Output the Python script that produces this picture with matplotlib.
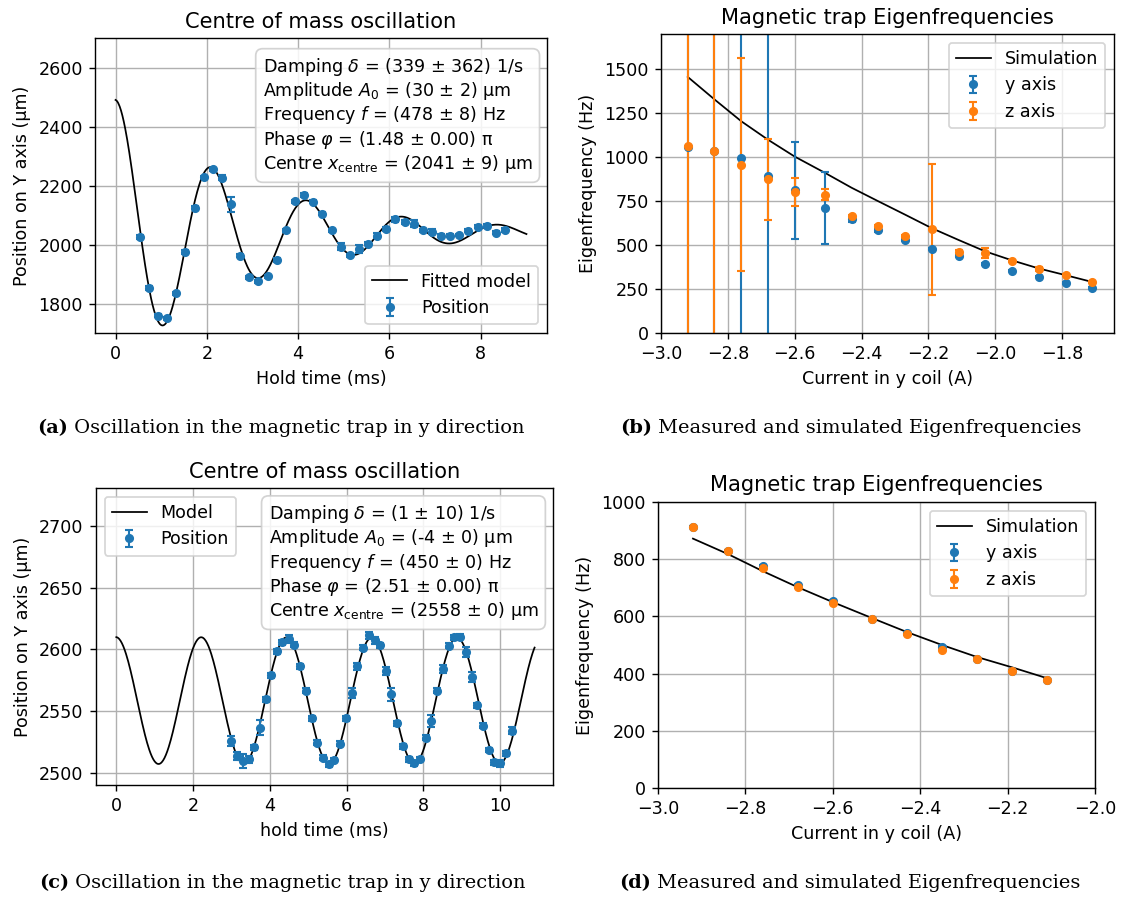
import numpy as np
import matplotlib
matplotlib.use("Agg")
import matplotlib.pyplot as plt

# (a) centre of mass oscillation, first run
t_a = [0.53, 0.73, 0.93, 1.13, 1.33, 1.53, 1.73, 1.93, 2.13, 2.33, 2.53, 2.73, 2.93, 3.13,
       3.33, 3.53, 3.73, 3.93, 4.13, 4.33, 4.53, 4.73, 4.93, 5.13, 5.33, 5.53, 5.73, 5.93,
       6.13, 6.33, 6.53, 6.73, 6.93, 7.13, 7.33, 7.53, 7.73, 7.93, 8.13, 8.33, 8.53]
pos_a = [2025, 1852, 1758, 1750, 1834, 1975, 2125, 2228, 2255, 2227, 2136, 1962, 1889, 1875,
         1893, 1948, 2048, 2146, 2169, 2145, 2104, 2048, 1993, 1964, 1985, 2003, 2030, 2053,
         2085, 2077, 2071, 2048, 2044, 2029, 2030, 2033, 2046, 2060, 2063, 2040, 2048]
err_a = [8, 6, 5, 5, 6, 6, 5, 4, 6, 10, 26, 5, 5, 6, 5, 7, 6, 5, 7, 5, 5, 5, 12, 5, 14, 5, 9,
         6, 8, 6, 12, 5, 8, 5, 5, 4, 5, 5, 5, 5, 7]
# fit parameters: damping (1/s), amplitude of curve (um), frequency (Hz), phase (pi), centre (um)
fit_a = dict(delta=339, amp=450, f=478, phi=1.48, centre=2041, t_end=9.0)
text_a = [r"Damping $\delta$ = (339 ± 362) 1/s",
          r"Amplitude $A_0$ = (30 ± 2) µm",
          r"Frequency $f$ = (478 ± 8) Hz",
          r"Phase $\varphi$ = (1.48 ± 0.00) π",
          r"Centre $x_\mathrm{centre}$ = (2041 ± 9) µm"]

# (c) centre of mass oscillation, second run
t_c = [2.99, 3.14, 3.30, 3.46, 3.60, 3.75, 3.89, 4.04, 4.19, 4.33, 4.49, 4.64, 4.79, 4.94,
       5.09, 5.24, 5.39, 5.53, 5.68, 5.83, 5.98, 6.13, 6.28, 6.43, 6.58, 6.73, 6.87, 7.02,
       7.17, 7.32, 7.47, 7.62, 7.77, 7.92, 8.06, 8.21, 8.36, 8.51, 8.66, 8.81, 8.96, 9.11,
       9.26, 9.41, 9.55, 9.70, 9.85, 10.00, 10.15, 10.30]
pos_c = [2525.7, 2513.5, 2509.5, 2510.8, 2520.5, 2536.5, 2559.5, 2579, 2598.4, 2605.7,
         2608.4, 2604, 2586.5, 2566.5, 2544, 2524.3, 2512.2, 2506.8, 2510.3, 2523.5,
         2544.3, 2564.9, 2586.2, 2601.4, 2611.4, 2607.3, 2603.5, 2582.4, 2563.5, 2540,
         2521.6, 2510.8, 2507.6, 2511.1, 2528.4, 2541.9, 2566.5, 2584, 2603, 2610,
         2610.3, 2597.8, 2577.3, 2554.6, 2538.1, 2518.4, 2508.6, 2507.6, 2515.7, 2534]
err_c = [4, 3, 6, 3, 2, 6, 2, 2, 2, 2, 3, 2, 2, 2, 2, 2, 2, 2, 2, 2, 2, 4, 3, 2, 3, 3, 2, 3,
         5, 2, 2, 2, 2, 2, 2, 5, 2, 3, 2, 2, 2, 4, 4, 2, 2, 2, 2, 3, 2, 3]
fit_c = dict(delta=1, amp=-51.5, f=450, phi=2.51, centre=2558.5, t_end=10.9)
text_c = [r"Damping $\delta$ = (1 ± 10) 1/s",
          r"Amplitude $A_0$ = (-4 ± 0) µm",
          r"Frequency $f$ = (450 ± 0) Hz",
          r"Phase $\varphi$ = (2.51 ± 0.00) π",
          r"Centre $x_\mathrm{centre}$ = (2558 ± 0) µm"]

# (b) eigenfrequencies vs coil current, first run
cur_b = [-2.92, -2.84, -2.76, -2.68, -2.60, -2.51, -2.43, -2.35, -2.27, -2.19, -2.11,
         -2.03, -1.95, -1.87, -1.79, -1.71]
fy_b = [1057, 1033, 997, 892, 812, 713, 646, 583, 529, 478, 436, 392, 355, 321, 283, 254]
ey_b = [1500, 1500, 2000, 2000, 275, 205, 15, 6, 6, 6, 5, 5, 5, 5, 5, 5]
fz_b = [1064, 1036, 957, 873, 801, 787, 663, 608, 550, 590, 462, 455, 409, 365, 329, 290]
ez_b = [2000, 2000, 605, 228, 80, 33, 10, 8, 8, 372, 8, 28, 8, 10, 6, 5]
sim_b = [1456, 1328, 1204, 1099, 1003, 911, 826, 749, 673, 596, 529, 464, 413, 367, 329, 290]

# (d) eigenfrequencies vs coil current, second run
cur_d = [-2.92, -2.84, -2.76, -2.68, -2.60, -2.51, -2.43, -2.35, -2.27, -2.19, -2.11]
fy_d = [914, 828, 777, 711, 653, 592, 543, 493, 451, 410, 378]
ey_d = [3, 3, 3, 3, 3, 3, 3, 3, 3, 3, 3]
fz_d = [911, 828, 768, 702, 647, 592, 538, 484, 451, 410, 378]
ez_d = [3, 3, 3, 3, 3, 3, 3, 3, 3, 3, 3]
sim_d = [872, 818, 758, 702, 650, 594, 545, 500, 458, 422, 384]

captions = [("(a)", "Oscillation in the magnetic trap in y direction"),
            ("(b)", "Measured and simulated Eigenfrequencies"),
            ("(c)", "Oscillation in the magnetic trap in y direction"),
            ("(d)", "Measured and simulated Eigenfrequencies")]


def model(p):
    # damped oscillation from the fit parameters, time in ms
    t = np.linspace(0, p["t_end"], 600)
    return t, p["centre"] - p["amp"] * np.exp(-p["delta"] * t / 1000) * \
        np.sin(2 * np.pi * p["f"] * t / 1000 + p["phi"] * np.pi)


DPI = 126
fig = plt.figure(figsize=(1125 / DPI, 898 / DPI), dpi=DPI)

ax_a = fig.add_axes([95 / 1125, 1 - 333 / 898, 452 / 1125, 295 / 898])
ax_b = fig.add_axes([661 / 1125, 1 - 333 / 898, 453 / 1125, 299 / 898])
ax_c = fig.add_axes([96 / 1125, 1 - 785 / 898, 457 / 1125, 297 / 898])
ax_d = fig.add_axes([658 / 1125, 1 - 788 / 898, 437 / 1125, 286 / 898])

box = dict(boxstyle="round,pad=0.4", facecolor="white", edgecolor="0.8", alpha=0.85)
eb = dict(fmt="o", ms=4.2, capsize=2.5, elinewidth=1.2, capthick=1.2)

# (a)
tm, ym = model(fit_a)
ax_a.plot(tm, ym, color="black", lw=1.0, label="Fitted model")
ax_a.errorbar(t_a, pos_a, yerr=err_a, color="C0", label="Position", **eb)
ax_a.set_xlim(-0.45, 9.45)
ax_a.set_ylim(1700, 2700)
ax_a.set_title("Centre of mass oscillation")
ax_a.set_xlabel("Hold time (ms)")
ax_a.set_ylabel("Position on Y axis (µm)")
ax_a.grid(True)
ax_a.legend(loc="lower right")
ax_a.text(0.968, 0.94, "\n".join(text_a), transform=ax_a.transAxes, ha="right", va="top",
          multialignment="left", linespacing=1.15, bbox=box)

# (c)
tm, ym = model(fit_c)
ax_c.plot(tm, ym, color="black", lw=1.0, label="Model")
ax_c.errorbar(t_c, pos_c, yerr=err_c, color="C0", label="Position", **eb)
ax_c.set_xlim(-0.53, 11.38)
ax_c.set_ylim(2490, 2731)
ax_c.set_title("Centre of mass oscillation")
ax_c.set_xlabel("hold time (ms)")
ax_c.set_ylabel("Position on Y axis (µm)")
ax_c.grid(True)
ax_c.legend(loc="upper left")
ax_c.text(0.968, 0.95, "\n".join(text_c), transform=ax_c.transAxes, ha="right", va="top",
          multialignment="left", linespacing=1.15, bbox=box)

# (b)
ax_b.plot(cur_b, sim_b, color="black", lw=1.0, label="Simulation")
ax_b.errorbar(cur_b, fy_b, yerr=ey_b, color="C0", label="y axis", **eb)
ax_b.errorbar(cur_b, fz_b, yerr=ez_b, color="C1", label="z axis", **eb)
ax_b.set_xlim(-3.0, -1.645)
ax_b.set_ylim(0, 1700)
ax_b.set_title("Magnetic trap Eigenfrequencies")
ax_b.set_xlabel("Current in y coil (A)")
ax_b.set_ylabel("Eigenfrequency (Hz)")
ax_b.grid(True)
ax_b.legend(loc="upper right")

# (d)
ax_d.plot(cur_d, sim_d, color="black", lw=1.0, label="Simulation")
ax_d.errorbar(cur_d, fy_d, yerr=ey_d, color="C0", label="y axis", **eb)
ax_d.errorbar(cur_d, fz_d, yerr=ez_d, color="C1", label="z axis", **eb)
ax_d.set_xlim(-3.0, -2.0)
ax_d.set_ylim(0, 1000)
ax_d.set_title("Magnetic trap Eigenfrequencies")
ax_d.set_xlabel("Current in y coil (A)")
ax_d.set_ylabel("Eigenfrequency (Hz)")
ax_d.grid(True)
ax_d.legend(loc="upper right")

# sub-captions below each panel: bold tag, then the text
cap_pos = [(37, 428), (620, 428), (39, 883), (619, 883)]
for (tag, txt), (cx, cy) in zip(captions, cap_pos):
    t1 = fig.text(cx / 1125, 1 - cy / 898, tag, family="DejaVu Serif", fontsize=11.1,
                  fontweight="bold", ha="left", va="center")
    ax_a.annotate(" " + txt, xy=(1, 0), xycoords=t1, ha="left", va="bottom",
                  family="DejaVu Serif", fontsize=11.1, annotation_clip=False)

fig.savefig("out.png", dpi=DPI)
